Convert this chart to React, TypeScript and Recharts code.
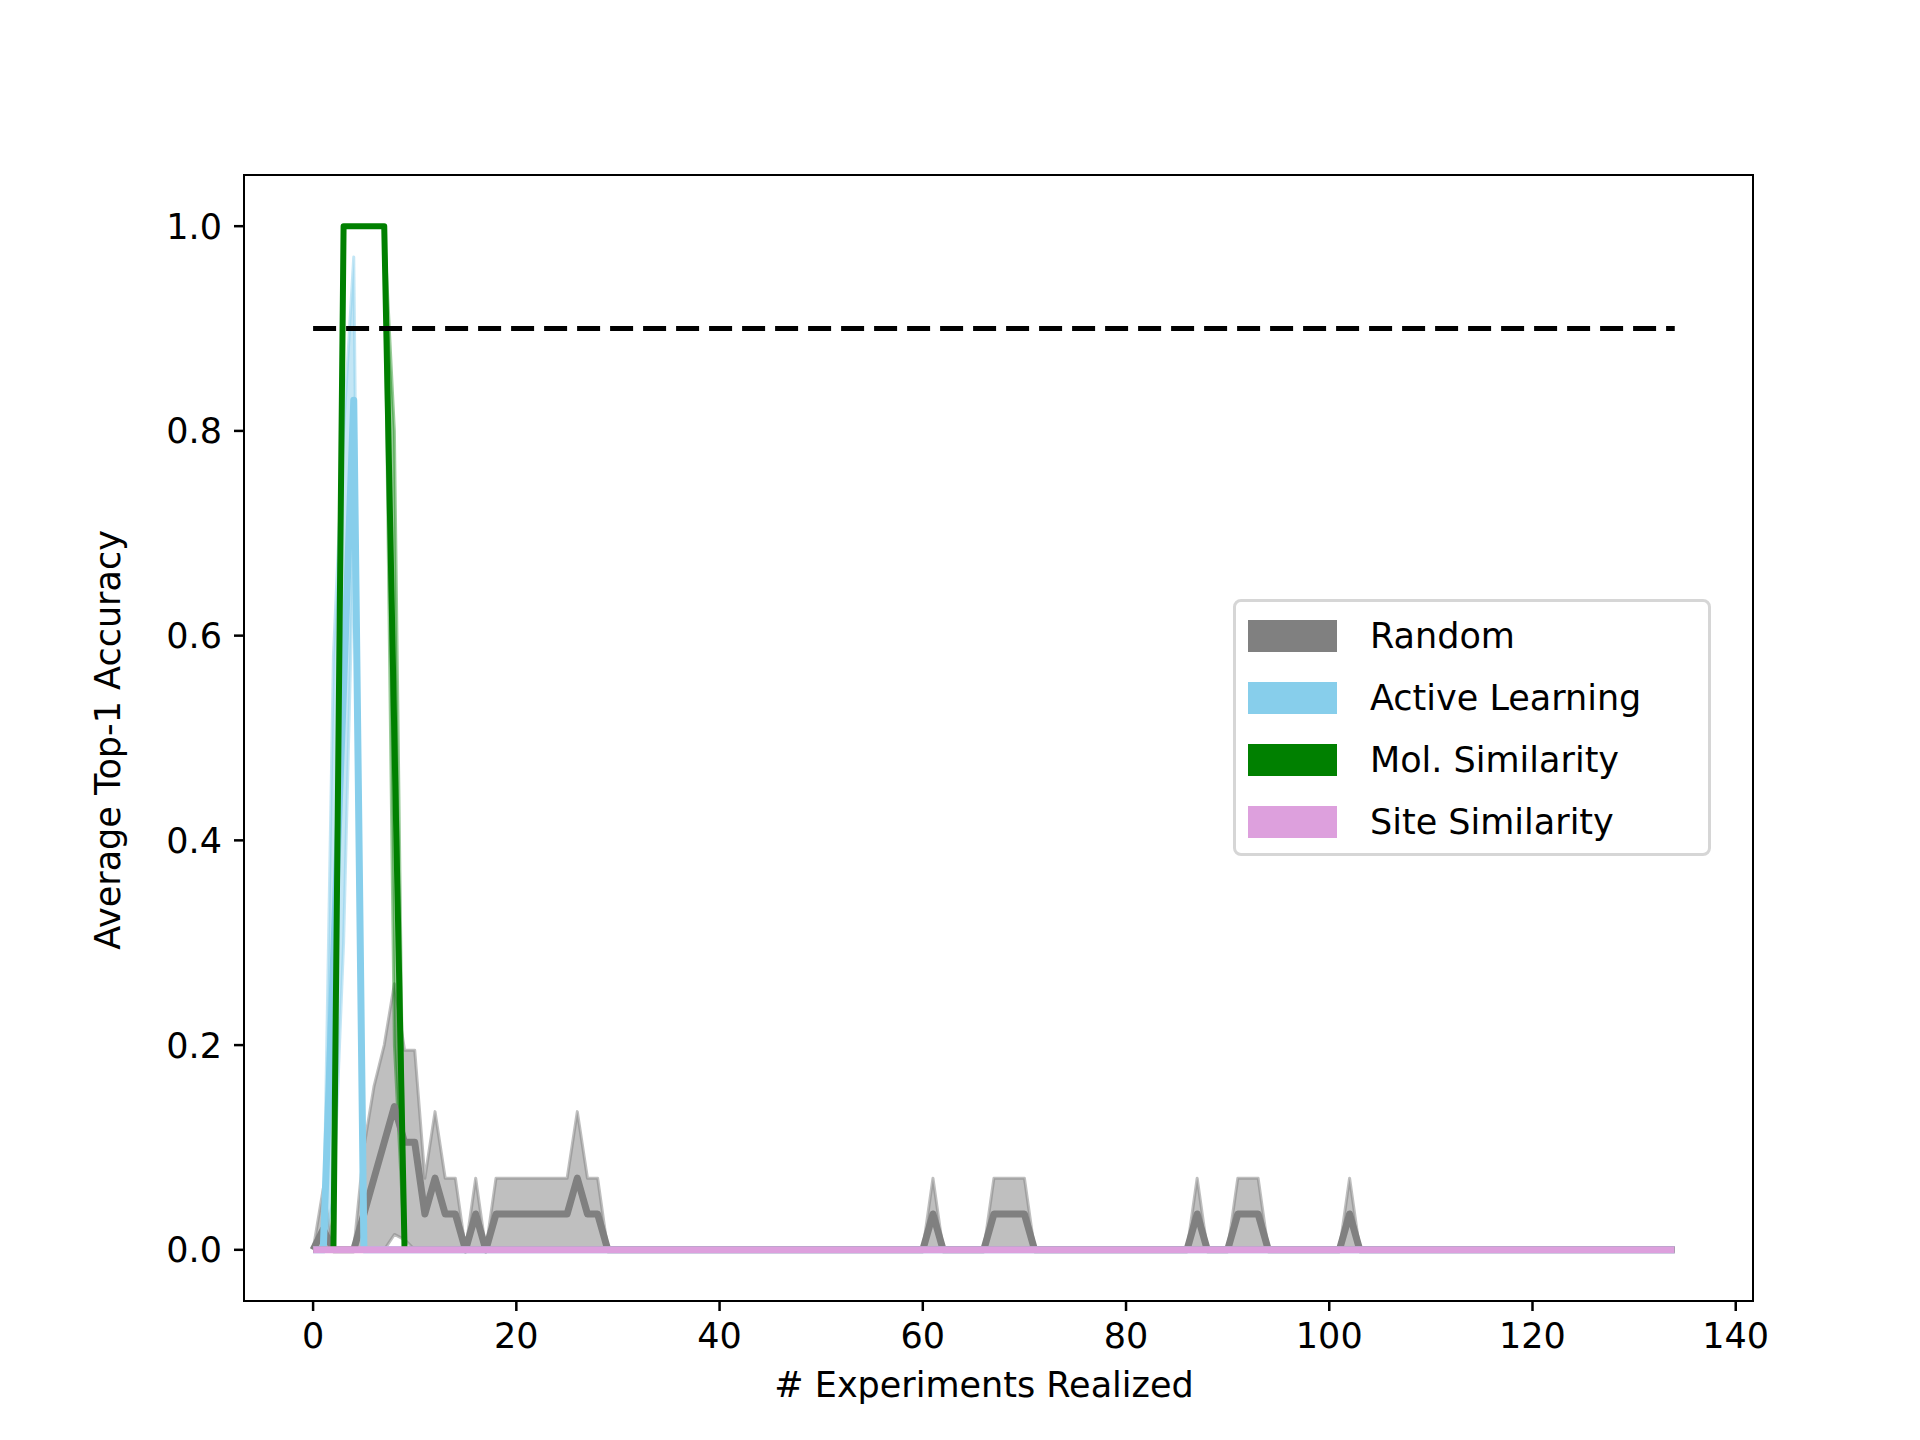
import { Area, ComposedChart, Line, XAxis, YAxis } from "recharts";

const N_POINTS = 135;
const xTicks = [0, 20, 40, 60, 80, 100, 120, 140];
const yTicks = [0, 0.2, 0.4, 0.6, 0.8, 1.0];
const TARGET = 0.9;

// non-zero values only, keyed by experiment count
const randomMean: Record<number, number> = {
  1: 0.02, 5: 0.035, 6: 0.07, 7: 0.105, 8: 0.14, 9: 0.105, 10: 0.105, 11: 0.035, 12: 0.07,
  13: 0.035, 14: 0.035, 16: 0.035, 18: 0.035, 19: 0.035, 20: 0.035, 21: 0.035, 22: 0.035,
  23: 0.035, 24: 0.035, 25: 0.035, 26: 0.07, 27: 0.035, 28: 0.035,
  61: 0.035, 67: 0.035, 68: 0.035, 69: 0.035, 70: 0.035, 87: 0.035, 91: 0.035, 92: 0.035,
  93: 0.035, 102: 0.035,
};
const randomUpper: Record<number, number> = {
  1: 0.06, 5: 0.1, 6: 0.16, 7: 0.2, 8: 0.26, 9: 0.195, 10: 0.195, 11: 0.07, 12: 0.135,
  13: 0.07, 14: 0.07, 16: 0.07, 18: 0.07, 19: 0.07, 20: 0.07, 21: 0.07, 22: 0.07, 23: 0.07,
  24: 0.07, 25: 0.07, 26: 0.135, 27: 0.07, 28: 0.07,
  61: 0.07, 67: 0.07, 68: 0.07, 69: 0.07, 70: 0.07, 87: 0.07, 91: 0.07, 92: 0.07, 93: 0.07,
  102: 0.07,
};
const randomLower: Record<number, number> = { 8: 0.015, 9: 0.01 };
const activeMean: Record<number, number> = { 2: 0.28, 3: 0.55, 4: 0.83 };
const activeUpper: Record<number, number> = { 2: 0.58, 3: 0.8, 4: 0.97 };
const activeLower: Record<number, number> = { 2: 0.05, 3: 0.3, 4: 0.7 };
const molMean: Record<number, number> = { 3: 1, 4: 1, 5: 1, 6: 1, 7: 1, 8: 0.5 };
const molUpper: Record<number, number> = { 3: 1, 4: 1, 5: 1, 6: 1, 7: 1, 8: 0.8 };
const molLower: Record<number, number> = { 3: 1, 4: 1, 5: 1, 6: 1, 7: 1, 8: 0.2 };

const data = Array.from({ length: N_POINTS }, (_, x) => ({
  x,
  randomBand: [randomLower[x] ?? 0, randomUpper[x] ?? 0],
  random: randomMean[x] ?? 0,
  activeBand: [activeLower[x] ?? 0, activeUpper[x] ?? 0],
  active: activeMean[x] ?? 0,
  molBand: [molLower[x] ?? 0, molUpper[x] ?? 0],
  mol: molMean[x] ?? 0,
  site: 0,
  target: TARGET,
}));

const legendItems = [
  { name: "Random", color: "#808080" },
  { name: "Active Learning", color: "#87ceeb" },
  { name: "Mol. Similarity", color: "#008000" },
  { name: "Site Similarity", color: "#dda0dd" },
];

const FONT = "DejaVu Sans";
const tickStyle = { fontSize: 35, fill: "#000", fontFamily: FONT };
const tickLine = { stroke: "#000", strokeWidth: 2.5 };

export default function App() {
  return (
    <div style={{ position: "absolute", left: 0, top: 0, width: 1920, height: 1440, background: "#fff" }}>
      <ComposedChart
        width={1920}
        height={1440}
        data={data}
        margin={{ top: 175, right: 167, left: 114, bottom: 39 }}
      >
        <XAxis
          dataKey="x"
          type="number"
          domain={[-6.8, 141.7]}
          ticks={xTicks}
          allowDataOverflow
          tick={tickStyle}
          tickLine={tickLine}
          tickSize={10}
          tickMargin={12}
          axisLine={false}
          height={100}
        />
        <YAxis
          type="number"
          domain={[-0.05, 1.05]}
          ticks={yTicks}
          allowDataOverflow
          tick={tickStyle}
          tickLine={tickLine}
          tickSize={10}
          tickMargin={12}
          axisLine={false}
          width={130}
          tickFormatter={(v) => v.toFixed(1)}
        />

        <Area dataKey="randomBand" type="linear" fill="#808080" fillOpacity={0.5} stroke="#808080" strokeOpacity={0.5} strokeWidth={3} strokeLinejoin="round" isAnimationActive={false} dot={false} activeDot={false} />
        <Line dataKey="random" type="linear" stroke="#808080" strokeWidth={7} strokeLinejoin="round" dot={false} isAnimationActive={false} />
        <Area dataKey="activeBand" type="linear" fill="#87ceeb" fillOpacity={0.5} stroke="#87ceeb" strokeOpacity={0.5} strokeWidth={3} strokeLinejoin="round" isAnimationActive={false} dot={false} activeDot={false} />
        <Line dataKey="active" type="linear" stroke="#87ceeb" strokeWidth={7} strokeLinejoin="round" dot={false} isAnimationActive={false} />
        <Area dataKey="molBand" type="linear" fill="#008000" fillOpacity={0.4} stroke="#008000" strokeOpacity={0.4} strokeWidth={3} strokeLinejoin="round" isAnimationActive={false} dot={false} activeDot={false} />
        <Line dataKey="mol" type="linear" stroke="#008000" strokeWidth={6} strokeLinejoin="round" dot={false} isAnimationActive={false} />
        <Line dataKey="site" type="linear" stroke="#dda0dd" strokeWidth={7} dot={false} isAnimationActive={false} />
        <Line dataKey="target" type="linear" stroke="#000" strokeWidth={5} strokeDasharray="23 10" dot={false} isAnimationActive={false} />
      </ComposedChart>

      <div
        style={{
          position: "absolute",
          left: 243,
          top: 174,
          width: 1511,
          height: 1128,
          boxSizing: "border-box",
          border: "2.5px solid #000",
          pointerEvents: "none",
        }}
      />

      <div
        style={{
          position: "absolute",
          left: 108,
          top: 740,
          transform: "translate(-50%, -50%) rotate(-90deg)",
          fontFamily: FONT,
          fontSize: 35,
          whiteSpace: "nowrap",
        }}
      >
        Average Top-1 Accuracy
      </div>
      <div
        style={{
          position: "absolute",
          left: 984,
          top: 1385,
          transform: "translate(-50%, -50%)",
          fontFamily: FONT,
          fontSize: 35,
          whiteSpace: "nowrap",
        }}
      >
        # Experiments Realized
      </div>

      <div
        style={{
          position: "absolute",
          left: 1233,
          top: 599,
          width: 478,
          height: 257,
          boxSizing: "border-box",
          border: "3px solid #d6d6d6",
          borderRadius: 8,
          background: "rgba(255,255,255,0.8)",
          fontFamily: FONT,
          fontSize: 35,
        }}
      >
        {legendItems.map((item, i) => (
          <div key={item.name} style={{ position: "absolute", left: 12, top: 17 + i * 62, height: 34, display: "flex", alignItems: "center" }}>
            <span style={{ width: 89, height: 32, background: item.color, display: "inline-block" }} />
            <span style={{ marginLeft: 33, whiteSpace: "nowrap" }}>{item.name}</span>
          </div>
        ))}
      </div>
    </div>
  );
}
